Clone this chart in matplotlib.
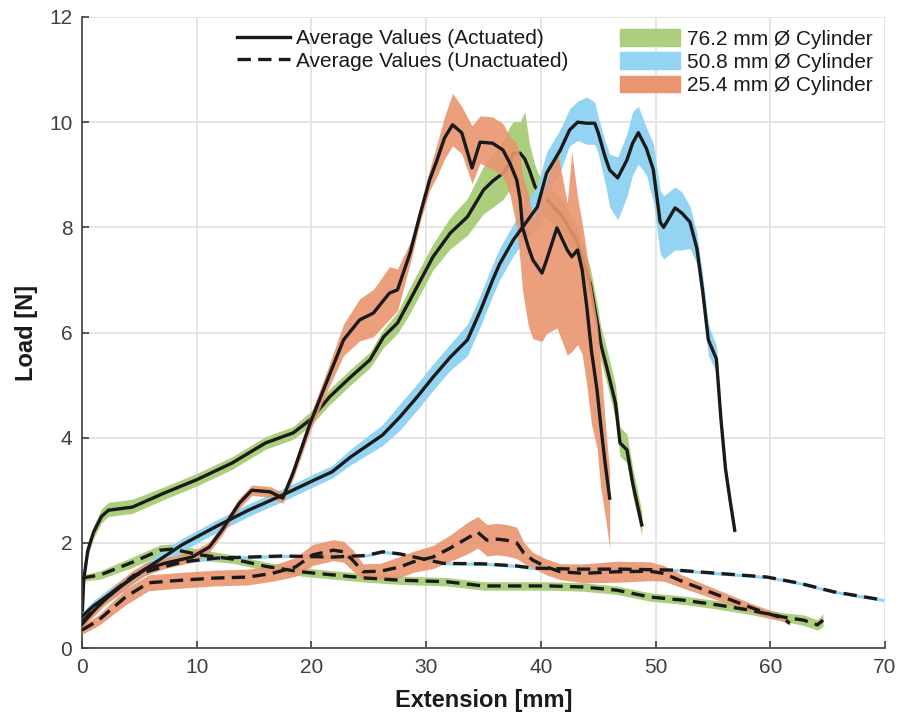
import numpy as np
import matplotlib.pyplot as plt
from matplotlib.lines import Line2D
from matplotlib.patches import Patch

plt.rcParams['font.family'] = ['Liberation Sans', 'DejaVu Sans']

GREEN = '#accf7e'
BLUE = '#93d4f3'
ORANGE = '#e9956f'
INK = '#1a1a1a'

# ---- 76.2 mm cylinder, actuated ----
g_act_x = [0, 0.15, 0.5, 1.0, 1.7, 2.3, 4.4, 7.2, 10.0, 13.1, 16.0, 18.4, 19.9, 21.6, 23.4,
           25.1, 26.3, 27.5, 28.6, 30.6, 32.1, 33.6, 35.0, 35.8, 36.7, 37.3, 37.6, 38.2, 38.6,
           39.0, 39.5, 39.9, 41.8, 43.1, 44.3, 45.0, 45.2, 45.8, 46.5, 46.9, 47.5, 48.0, 48.8]
g_act_y = [0.55, 1.3, 1.85, 2.2, 2.5, 2.62, 2.68, 2.95, 3.2, 3.52, 3.9, 4.09, 4.34, 4.78, 5.15,
           5.48, 5.92, 6.18, 6.62, 7.44, 7.89, 8.2, 8.71, 8.88, 9.03, 9.22, 9.41, 9.41, 9.3,
           9.09, 8.77, 8.67, 8.23, 7.76, 6.94, 6.1, 5.8, 5.29, 4.66, 3.9, 3.77, 3.14, 2.34]
g_act_dn = [0.05, 0.1, 0.12, 0.12, 0.12, 0.12, 0.12, 0.12, 0.12, 0.12, 0.12, 0.12, 0.12, 0.15, 0.15,
            0.15, 0.2, 0.2, 0.25, 0.25, 0.3, 0.35, 0.45, 0.5, 0.5, 0.5, 0.6, 0.7, 0.8,
            0.8, 0.6, 0.4, 0.3, 0.3, 0.3, 0.3, 0.3, 0.3, 0.3, 0.25, 0.25, 0.25, 0.2]
g_act_up = [0.05, 0.1, 0.12, 0.12, 0.15, 0.15, 0.15, 0.12, 0.12, 0.12, 0.12, 0.12, 0.15, 0.15, 0.15,
            0.15, 0.15, 0.2, 0.25, 0.25, 0.3, 0.35, 0.45, 0.5, 0.6, 0.7, 0.6, 0.6, 0.9,
            0.5, 0.4, 0.3, 0.3, 0.3, 0.3, 0.35, 0.35, 0.35, 0.35, 0.3, 0.3, 0.3, 0.25]

# ---- 50.8 mm cylinder, actuated ----
b_act_x = [0, 1.0, 2.9, 5.8, 8.7, 11.6, 14.5, 17.4, 20.3, 21.8, 23.4, 26.2, 27.7, 29.2, 30.6,
           32.1, 33.6, 34.7, 35.8, 36.4, 37.6, 38.4, 39.7, 40.5, 41.7, 42.5, 43.2, 44.0, 44.7,
           45.0, 45.6, 46.0, 46.7, 47.5, 48.0, 48.5, 49.2, 49.8, 50.4, 50.7, 51.7, 52.3, 53.0,
           53.6, 54.1, 54.6, 55.3, 55.7, 56.1, 56.5, 56.9]
b_act_y = [0.6, 0.8, 1.1, 1.54, 1.96, 2.3, 2.62, 2.9, 3.2, 3.35, 3.63, 4.05, 4.39, 4.77, 5.15,
           5.53, 5.86, 6.4, 7.0, 7.3, 7.76, 8.0, 8.39, 9.03, 9.47, 9.85, 10.0, 9.98, 9.98,
           9.8, 9.34, 9.09, 8.94, 9.28, 9.6, 9.8, 9.5, 9.1, 8.1, 8.0, 8.37, 8.27, 8.1,
           7.6, 6.8, 5.86, 5.5, 4.35, 3.4, 2.8, 2.24]
b_act_dn = [0.08, 0.1, 0.12, 0.12, 0.12, 0.12, 0.12, 0.12, 0.12, 0.12, 0.15, 0.2, 0.25, 0.25, 0.25,
            0.25, 0.3, 0.3, 0.3, 0.3, 0.3, 0.3, 0.4, 0.4, 0.4, 0.3, 0.35, 0.4, 0.4,
            0.4, 0.5, 0.7, 0.8, 0.7, 0.6, 0.6, 0.5, 0.6, 0.6, 0.6, 0.8, 0.7, 0.5,
            0.3, 0.3, 0.3, 0.25, 0.2, 0.15, 0.15, 0.12]
b_act_up = [0.08, 0.1, 0.12, 0.12, 0.12, 0.12, 0.12, 0.12, 0.12, 0.12, 0.15, 0.2, 0.25, 0.25, 0.25,
            0.25, 0.3, 0.3, 0.3, 0.3, 0.3, 0.35, 0.4, 0.4, 0.4, 0.4, 0.4, 0.5, 0.4,
            0.3, 0.3, 0.3, 0.4, 0.5, 0.6, 0.5, 0.4, 0.5, 0.6, 0.6, 0.4, 0.4, 0.3,
            0.3, 0.3, 0.3, 0.25, 0.2, 0.15, 0.15, 0.12]

# ---- 25.4 mm cylinder, actuated ----
o_act_x = [0, 1.0, 2.0, 3.0, 4.4, 5.5, 7.2, 9.6, 11.1, 12.2, 13.7, 14.8, 16.4, 17.5, 18.4,
           19.9, 21.4, 22.8, 24.2, 25.4, 26.8, 27.5, 28.6, 29.5, 30.3, 30.9, 31.6, 32.3, 33.1,
           34.0, 34.7, 35.8, 36.7, 37.3, 37.9, 38.2, 38.4, 38.9, 39.3, 40.1, 40.5, 41.4, 42.3,
           42.7, 43.2, 43.6, 44.0, 44.4, 44.9, 45.2, 45.6, 46.0]
o_act_y = [0.45, 0.7, 0.92, 1.1, 1.35, 1.5, 1.61, 1.73, 1.92, 2.24, 2.75, 3.0, 2.97, 2.85, 3.33,
           4.28, 5.1, 5.86, 6.24, 6.37, 6.75, 6.81, 7.51, 8.27, 8.9, 9.25, 9.7, 9.95, 9.8,
           9.13, 9.62, 9.6, 9.47, 9.22, 8.9, 8.52, 8.0, 7.63, 7.38, 7.13, 7.38, 7.99, 7.57,
           7.44, 7.57, 7.19, 6.5, 5.67, 4.9, 4.28, 3.52, 2.85]
o_act_dn = [0.08, 0.1, 0.1, 0.12, 0.12, 0.12, 0.1, 0.1, 0.1, 0.1, 0.1, 0.1, 0.1, 0.1, 0.12,
            0.15, 0.2, 0.3, 0.4, 0.45, 0.5, 0.4, 0.2, 0.15, 0.2, 0.3, 0.4, 0.4, 0.4,
            0.3, 0.4, 0.5, 0.5, 0.6, 0.9, 1.2, 1.2, 1.5, 1.5, 1.3, 1.4, 1.9, 2.0,
            1.8, 1.8, 1.6, 1.5, 1.4, 1.1, 1.2, 1.0, 0.95]
o_act_up = [0.08, 0.1, 0.1, 0.12, 0.12, 0.12, 0.1, 0.1, 0.1, 0.1, 0.1, 0.1, 0.1, 0.1, 0.12,
            0.15, 0.2, 0.3, 0.4, 0.45, 0.5, 0.4, 0.2, 0.15, 0.2, 0.3, 0.4, 0.6, 0.5,
            0.8, 0.5, 0.5, 0.5, 0.5, 0.7, 0.8, 1.0, 1.0, 0.8, 1.5, 1.5, 1.5, 0.9,
            2.0, 1.0, 0.9, 1.0, 1.2, 1.3, 1.2, 0.8, 0.5]

# ---- unactuated runs ----
g_un_x = [0, 1.6, 4.5, 6.8, 7.9, 10.3, 13.2, 16.1, 19.0, 21.9, 24.8, 27.7, 31.8, 35.0, 37.9,
          40.8, 43.7, 46.6, 49.5, 52.4, 55.4, 58.2, 61.1, 62.9, 64.1, 64.6]
g_un_y = [1.33, 1.39, 1.64, 1.86, 1.88, 1.77, 1.69, 1.55, 1.45, 1.39, 1.33, 1.29, 1.26, 1.18, 1.18,
          1.18, 1.16, 1.10, 0.97, 0.91, 0.82, 0.72, 0.59, 0.53, 0.44, 0.53]
g_un_sp = [0.06, 0.08, 0.1, 0.1, 0.1, 0.1, 0.08, 0.08, 0.08, 0.08, 0.08, 0.08, 0.08, 0.08, 0.08,
           0.08, 0.08, 0.08, 0.08, 0.08, 0.08, 0.08, 0.08, 0.1, 0.1, 0.12]

b_un_x = [0, 1.0, 2.0, 3.0, 4.5, 6.4, 8.8, 11.8, 14.6, 17.5, 21.9, 24.8, 26.2, 27.7, 31.5,
          35.0, 37.9, 39.3, 43.0, 47.0, 51.9, 55.4, 59.7, 62.6, 65.5, 69.9]
b_un_y = [0.5, 0.72, 0.92, 1.12, 1.38, 1.5, 1.64, 1.71, 1.73, 1.75, 1.73, 1.76, 1.83, 1.79, 1.61,
          1.6, 1.56, 1.52, 1.5, 1.5, 1.48, 1.42, 1.35, 1.23, 1.07, 0.91]
b_un_sp = [0.03] * len(b_un_x)

o_un_x = [0, 1.45, 3.8, 5.8, 8.7, 11.6, 14.5, 16.6, 18.6, 20.1, 21.9, 22.8, 23.6, 24.5, 26.0,
          27.7, 28.9, 30.6, 32.1, 33.6, 34.5, 35.3, 36.2, 37.0, 37.9, 38.5, 39.3, 40.5, 41.7,
          43.7, 46.6, 49.5, 50.7, 52.4, 55.4, 58.2, 59.7, 61.1, 61.7]
o_un_y = [0.34, 0.53, 0.97, 1.24, 1.29, 1.33, 1.35, 1.42, 1.54, 1.77, 1.86, 1.83, 1.67, 1.45, 1.46,
          1.54, 1.64, 1.73, 1.9, 2.09, 2.2, 2.05, 2.07, 2.05, 2.0, 1.81, 1.67, 1.54, 1.45,
          1.42, 1.45, 1.46, 1.42, 1.26, 1.01, 0.78, 0.66, 0.57, 0.47]
o_un_sp = [0.08, 0.1, 0.15, 0.15, 0.15, 0.15, 0.15, 0.15, 0.18, 0.2, 0.2, 0.2, 0.2, 0.15, 0.15,
           0.2, 0.2, 0.22, 0.25, 0.3, 0.3, 0.3, 0.3, 0.3, 0.3, 0.2, 0.15, 0.15, 0.15,
           0.18, 0.2, 0.18, 0.15, 0.12, 0.1, 0.08, 0.08, 0.06, 0.04]


def band(ax, x, y, dn, up, color, alpha=1.0, z=2):
    x = np.asarray(x)
    y = np.asarray(y)
    ax.fill_between(x, y - np.asarray(dn), y + np.asarray(up), color=color,
                    lw=0, alpha=alpha, zorder=z)


LW = 2.4
DASH = (4, 2.2)

fig = plt.figure(figsize=(9.01, 7.19), dpi=100)
ax = fig.add_axes([82 / 901, 71 / 719, 803 / 901, 631 / 719])

# unactuated bands + actuated bands
band(ax, g_un_x, g_un_y, g_un_sp, g_un_sp, GREEN, z=2)
band(ax, b_un_x, b_un_y, b_un_sp, b_un_sp, BLUE, z=2)
band(ax, g_act_x, g_act_y, g_act_dn, g_act_up, GREEN, z=2)
# green mean sits under the other bands
ax.plot(g_act_x, g_act_y, color=INK, lw=LW, zorder=2.5)
band(ax, b_act_x, b_act_y, b_act_dn, b_act_up, BLUE, z=3)
band(ax, o_act_x, o_act_y, o_act_dn, o_act_up, ORANGE, alpha=0.9, z=3)
band(ax, o_un_x, o_un_y, o_un_sp, o_un_sp, ORANGE, alpha=0.9, z=3)

ax.plot(b_act_x, b_act_y, color=INK, lw=LW, zorder=5)
ax.plot(o_act_x, o_act_y, color=INK, lw=LW, zorder=5)
for ux, uy in [(g_un_x, g_un_y), (b_un_x, b_un_y), (o_un_x, o_un_y)]:
    ax.plot(ux, uy, color=INK, lw=LW, dashes=DASH, zorder=5)

ax.set_xlim(0, 70)
ax.set_ylim(0, 12)
ax.set_xticks(np.arange(0, 71, 10))
ax.set_yticks(np.arange(0, 13, 2))
ax.grid(True, color='#e2e2e2', lw=1.3)
ax.set_axisbelow(True)
for s in ['top', 'right']:
    ax.spines[s].set_visible(False)
for s in ['left', 'bottom']:
    ax.spines[s].set_color('#404040')
    ax.spines[s].set_linewidth(1.2)
ax.tick_params(direction='in', length=5, width=1.2, color='#404040',
               labelsize=15, labelcolor='#404040', pad=7)
ax.set_xlabel('Extension [mm]', fontsize=17, fontweight='bold', color=INK, labelpad=9)
ax.set_ylabel('Load [N]', fontsize=17, fontweight='bold', color=INK, labelpad=8)

line_handles = [Line2D([], [], color=INK, lw=LW),
                Line2D([], [], color=INK, lw=LW, dashes=DASH)]
leg1 = fig.legend(line_handles, ['Average Values (Actuated)', 'Average Values (Unactuated)'],
                  loc='upper left', bbox_to_anchor=(237 / 901, 1 - 29 / 719), frameon=False,
                  fontsize=15, borderpad=0, borderaxespad=0, labelspacing=0.18,
                  handlelength=2.55, handletextpad=0.3, labelcolor=INK)
patch_handles = [Patch(color=GREEN), Patch(color=BLUE), Patch(color=ORANGE)]
leg2 = fig.legend(patch_handles, ['76.2 mm Ø Cylinder', '50.8 mm Ø Cylinder', '25.4 mm Ø Cylinder'],
                  loc='upper left', bbox_to_anchor=(620 / 901, 1 - 29 / 719), frameon=False,
                  fontsize=15, borderpad=0, borderaxespad=0, labelspacing=0.18,
                  handlelength=2.9, handleheight=0.85, handletextpad=0.3, labelcolor=INK)

fig.savefig('out.png', dpi=100)
